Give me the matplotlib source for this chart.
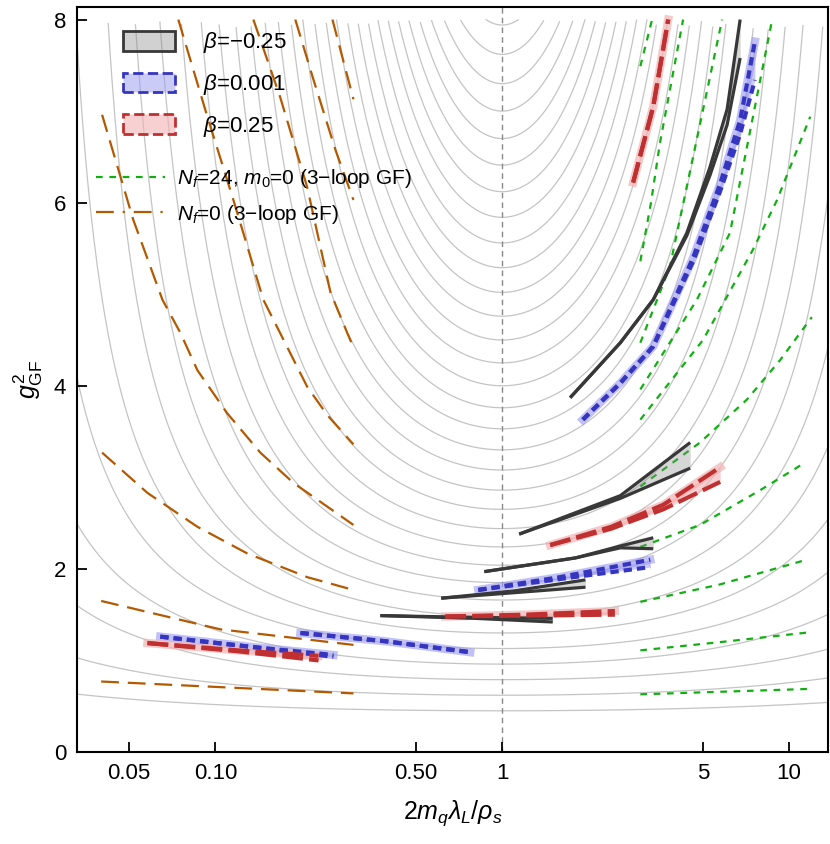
import numpy as np
import matplotlib
matplotlib.use("Agg")
import matplotlib.pyplot as plt
from matplotlib.lines import Line2D
from matplotlib.patches import Patch

plt.rcParams["font.family"] = "Liberation Sans"
plt.rcParams["mathtext.fontset"] = "custom"
plt.rcParams["mathtext.it"] = "Liberation Sans:italic"
plt.rcParams["mathtext.rm"] = "Liberation Sans"

# background running-coupling curves: value of g^2 at x=1, curvature
grey_g0 = [0.45, 0.62, 0.79, 0.96, 1.13, 1.3, 1.48, 1.66, 1.85, 2.04, 2.24, 2.44, 2.65,
           2.86, 3.08, 3.3, 3.53, 3.76, 4.0, 4.25, 4.5, 4.76, 5.02, 5.29, 5.56, 5.84,
           6.12, 6.41, 6.7, 7.0, 7.3, 7.62, 7.94]
grey_c = 0.055

# N_f=0 (3-loop GF) curves
nf0_x = [[0.0403, 0.0518, 0.0654, 0.0755, 0.0866, 0.110, 0.1435, 0.187, 0.303],
         [0.0743, 0.0938, 0.1156, 0.147, 0.209, 0.2456, 0.303],
         [0.1357, 0.168, 0.209, 0.252, 0.288, 0.303],
         [0.190, 0.2195, 0.262, 0.303],
         [0.256, 0.303],
         [0.0403, 0.058, 0.0866, 0.129, 0.209, 0.303],
         [0.040, 0.104, 0.303],
         [0.040, 0.303]]
nf0_y = [[6.96, 5.81, 4.94, 4.58, 4.17, 3.70, 3.27, 2.94, 2.48],
         [8.0, 6.94, 6.03, 4.94, 3.99, 3.68, 3.36],
         [8.0, 7.16, 6.17, 5.02, 4.58, 4.42],
         [8.0, 7.35, 6.58, 6.03],
         [8.0, 7.13],
         [3.27, 2.83, 2.46, 2.17, 1.91, 1.77],
         [1.65, 1.34, 1.17],
         [0.77, 0.64]]

# N_f=24, m0=0 (3-loop GF) curves
nf24_x = [[3.03, 3.33],
          [3.03, 3.30, 3.55, 4.27],
          [3.03, 3.84, 5.84],
          [3.03, 4.77, 6.22, 8.73],
          [3.03, 5.01, 7.49, 9.08, 11.85],
          [3.03, 4.89, 7.13, 9.30, 12.0],
          [3.03, 4.89, 7.93, 11.35],
          [3.03, 5.74, 11.5],
          [3.03, 5.74, 12.0],
          [3.03, 12.0]]
nf24_y = [[7.49, 8.0],
          [5.36, 6.0, 6.66, 8.0],
          [4.47, 5.30, 8.0],
          [3.96, 4.94, 5.67, 8.0],
          [3.63, 4.50, 5.49, 6.03, 6.94],
          [2.90, 3.38, 3.85, 4.28, 4.75],
          [2.24, 2.48, 2.86, 3.16],
          [1.64, 1.83, 2.10],
          [1.11, 1.20, 1.31],
          [0.63, 0.69]]

# beta = -0.25 bands
bm_x = [[1.725, 2.58, 3.36, 4.40, 5.3, 6.08, 6.75],
        [1.146, 2.58, 4.52],
        [0.866, 1.8, 2.58, 3.36],
        [0.613, 1.1, 1.95],
        [0.376, 0.8, 1.50]]
bm_lo = [[3.87, 4.47, 4.94, 5.64, 6.30, 6.85, 7.58],
         [2.38, 2.77, 3.10],
         [1.97, 2.12, 2.23, 2.22],
         [1.68, 1.74, 1.80],
         [1.49, 1.46, 1.42]]
bm_hi = [[3.87, 4.47, 4.94, 5.67, 6.39, 7.02, 8.0],
         [2.38, 2.80, 3.38],
         [1.97, 2.12, 2.25, 2.34],
         [1.68, 1.76, 1.88],
         [1.49, 1.47, 1.46]]

# beta = 0.001 bands
b0_x = [[1.91, 2.58, 3.36, 4.63, 5.74, 6.75, 7.6],
        [0.825, 1.59, 3.28],
        [0.198, 0.391, 0.774],
        [0.0643, 0.132, 0.258]]
b0_lo = [[3.63, 4.03, 4.43, 5.36, 6.12, 6.75, 7.34],
         [1.77, 1.89, 2.02],
         [1.30, 1.21, 1.09],
         [1.26, 1.15, 1.04]]
b0_hi = [[3.63, 4.03, 4.43, 5.40, 6.20, 6.90, 7.76],
         [1.77, 1.91, 2.10],
         [1.30, 1.21, 1.09],
         [1.26, 1.15, 1.06]]

# beta = 0.25 bands
bp_x = [[2.86, 3.36, 3.79],
        [1.47, 2.4, 3.64, 5.75],
        [0.633, 1.2, 2.47],
        [0.058, 0.12, 0.229]]
bp_lo = [[6.22, 7.05, 8.0],
         [2.26, 2.44, 2.65, 2.95],
         [1.48, 1.49, 1.50],
         [1.19, 1.10, 1.00]]
bp_hi = [[6.22, 7.05, 8.0],
         [2.26, 2.46, 2.70, 3.11],
         [1.48, 1.50, 1.54],
         [1.19, 1.11, 1.05]]

fig = plt.figure(figsize=(8.3, 8.44), dpi=100)
ax = fig.add_axes([0.093, 0.109, 0.905, 0.883])
ax.set_xscale("log")
ax.set_xlim(0.033, 13.7)
ax.set_ylim(0, 8.14)

xx = np.logspace(np.log10(0.033), np.log10(13.7), 800)
L2 = np.log(xx) ** 2
for g0 in grey_g0:
    inv = 1.0 / g0 - grey_c * L2
    y = np.where(inv > 0, 1.0 / np.where(inv > 0, inv, 1), np.nan)
    y = np.where(y <= 8.0, y, np.nan)
    ax.plot(xx, y, color="#c4c4c4", lw=0.9, zorder=1)

ax.axvline(1.0, color="#888888", lw=1.0, ls=(0, (4, 3)), zorder=1)

brown = "#b35900"
green = "#10b010"
for x, y in zip(nf0_x, nf0_y):
    ax.plot(x, y, color=brown, lw=1.6, ls=(0, (8, 4)), zorder=2)
for x, y in zip(nf24_x, nf24_y):
    ax.plot(x, y, color=green, lw=1.6, ls=(0, (3, 3)), zorder=2)


def band(x, lo, hi, edge, fill, ls, lw):
    ax.fill_between(x, lo, hi, color=fill, lw=0, zorder=3)
    ax.plot(x, lo, color=edge, lw=lw, ls=ls, zorder=4, solid_capstyle="butt")
    ax.plot(x, hi, color=edge, lw=lw, ls=ls, zorder=4, solid_capstyle="butt")


for x, lo, hi in zip(bm_x, bm_lo, bm_hi):
    band(x, lo, hi, "#383838", (0.55, 0.55, 0.55, 0.35), "-", 2.3)
for x, lo, hi in zip(b0_x, b0_lo, b0_hi):
    ax.plot(x, hi, color=(0.6, 0.6, 0.95, 0.6), lw=6, zorder=3)
    band(x, lo, hi, "#3535c0", (0.6, 0.6, 0.95, 0.5), (0, (2, 1.2)), 3)
for x, lo, hi in zip(bp_x, bp_lo, bp_hi):
    ax.plot(x, hi, color=(0.95, 0.7, 0.7, 0.7), lw=6, zorder=3)
    band(x, lo, hi, "#c03030", (0.95, 0.7, 0.7, 0.6), (0, (5, 1.5)), 3)

ax.set_xticks([0.05, 0.1, 0.5, 1, 5, 10])
ax.set_xticklabels(["0.05", "0.10", "0.50", "1", "5", "10"])
ax.xaxis.set_minor_locator(matplotlib.ticker.NullLocator())
ax.set_yticks([0, 2, 4, 6, 8])
ax.tick_params(direction="in", length=7, width=1.3, labelsize=16, pad=8)
for s in ax.spines.values():
    s.set_linewidth(1.5)
ax.set_xlabel(r"$2m_q\lambda_L/\rho_s$", fontsize=18, labelpad=10)
ax.set_ylabel(r"$g^2_{\rm GF}$", fontsize=18, labelpad=6)

h1 = Patch(facecolor=(0.55, 0.55, 0.55, 0.4), edgecolor="#383838", lw=2)
h2 = Patch(facecolor=(0.6, 0.6, 0.95, 0.5), edgecolor="#3535c0", lw=2, ls="--")
h3 = Patch(facecolor=(0.95, 0.7, 0.7, 0.6), edgecolor="#c03030", lw=2, ls="--")
leg1 = ax.legend([h1, h2, h3], [r"$\beta$=$-$0.25", r"$\beta$=0.001", r"$\beta$=0.25"],
                 loc="upper left", bbox_to_anchor=(0.035, 0.995), frameon=False, fontsize=16,
                 handlelength=2.3, handleheight=1.0, labelspacing=0.75, handletextpad=1.3)
ax.add_artist(leg1)
l1 = Line2D([], [], color=green, lw=1.6, ls=(0, (3, 3)))
l2 = Line2D([], [], color=brown, lw=1.6, ls=(0, (8, 4, 1, 4)))
ax.legend([l1, l2], [r"$N_f$=24, $m_0$=0 (3$-$loop GF)", r"$N_f$=0 (3$-$loop GF)"],
          loc="upper left", bbox_to_anchor=(0.0, 0.81), frameon=False, fontsize=15,
          handlelength=3.3, labelspacing=0.6, handletextpad=0.6)

fig.savefig("out.png", dpi=100)
